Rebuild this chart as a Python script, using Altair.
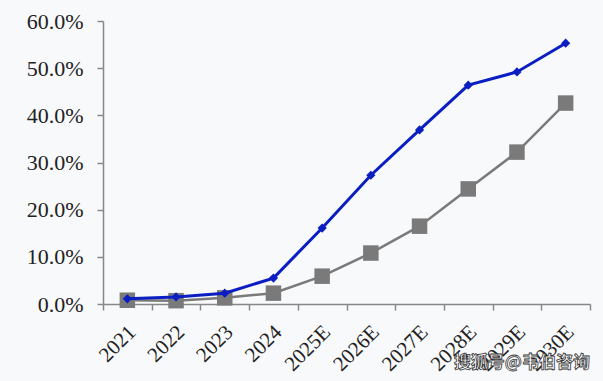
import altair as alt
import pandas as pd

years = ["2021", "2022", "2023", "2024", "2025E", "2026E", "2027E", "2028E", "2029E", "2030E"]
blue_vals = [0.011, 0.015, 0.023, 0.055, 0.161, 0.273, 0.369, 0.464, 0.492, 0.553]
gray_vals = [0.008, 0.007, 0.013, 0.023, 0.059, 0.108, 0.165, 0.244, 0.322, 0.426]

df_b = pd.DataFrame({"year": years, "v": blue_vals})
df_g = pd.DataFrame({"year": years, "v": gray_vals})

FONT = "Liberation Serif"
xenc = alt.X("year:N", sort=years, title=None,
             scale=alt.Scale(paddingInner=0, paddingOuter=0),
             axis=alt.Axis(labelAngle=-45, labelAlign="right", labelBaseline="top",
                           labelFontSize=21, labelFont=FONT, labelColor="#222",
                           tickBand="extent", tickSize=6, tickColor="#888",
                           domainColor="#888", domainWidth=1.5, tickWidth=1.5,
                           labelPadding=11, labelOffset=-3))
yenc = alt.Y("v:Q", title=None,
             scale=alt.Scale(domain=[0, 0.6], nice=False),
             axis=alt.Axis(format=".1%", values=[0, 0.1, 0.2, 0.3, 0.4, 0.5, 0.6],
                           labelFontSize=22, labelFont=FONT, labelColor="#222",
                           tickSize=6, tickColor="#888", domainColor="#888",
                           domainWidth=1.5, tickWidth=1.5, grid=False, labelPadding=14))

gray_line = alt.Chart(df_g).mark_line(color="#7a7a7a", strokeWidth=2.5).encode(x=xenc, y=yenc)
gray_pts = alt.Chart(df_g).mark_point(shape="square", filled=True, color="#7a7a7a",
                                      size=240, opacity=1).encode(x=xenc, y=yenc)
blue_line = alt.Chart(df_b).mark_line(color="#0b1ec2", strokeWidth=3).encode(x=xenc, y=yenc)
blue_pts = alt.Chart(df_b).mark_point(shape="diamond", filled=True, color="#0b1ec2",
                                      size=85, opacity=1).encode(x=xenc, y=yenc)

wm = alt.Chart(pd.DataFrame({"t": ["搜狐号@韦伯咨询"]})).mark_text(
    font="Noto Sans CJK SC", fontSize=17, fontWeight="bold", color="white",
    stroke="#333", strokeWidth=0.8, align="right", baseline="middle"
).encode(text="t:N", x=alt.value(487), y=alt.value(342))

chart = alt.layer(gray_line, gray_pts, blue_line, blue_pts, wm).properties(
    width=487, height=283,
    autosize=alt.AutoSizeParams(type="none"),
    padding={"left": 103, "top": 21, "right": 13, "bottom": 77},
    background="#f8f9fb",
).configure_view(stroke=None)

chart.save("out.html", embed_options={"renderer": "svg", "actions": False})
